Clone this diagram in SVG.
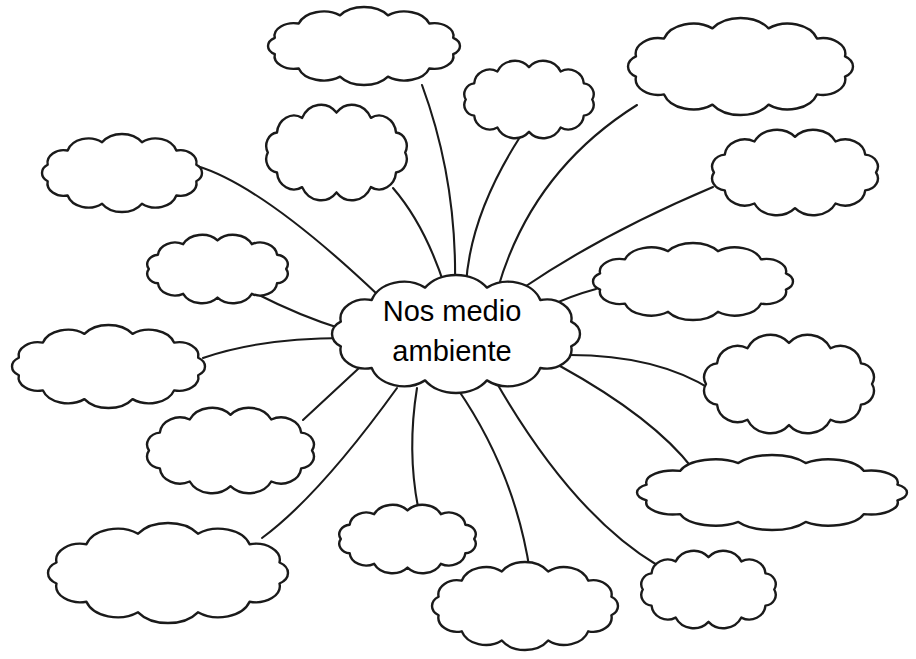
<svg xmlns="http://www.w3.org/2000/svg" width="916" height="659" viewBox="0 0 916 659">
<defs>
<style>
.cl{fill:#fff;stroke:#1a1a1a;stroke-width:2.4;stroke-linejoin:round;vector-effect:non-scaling-stroke}
.cn path{fill:none;stroke:#1a1a1a;stroke-width:2.1;stroke-linecap:round}
.t{font-family:"Liberation Sans","DejaVu Sans",sans-serif;font-size:29px;fill:#000;text-anchor:middle}
</style>
<symbol id="c1" viewBox="7.5 3.8 85 52.4" preserveAspectRatio="none" overflow="visible">
<path class="cl" d="M92,30 A7.4,7.4 0 0 1 86.4,41 A10.4,10.4 0 0 1 71,49.1 A12.7,12.7 0 0 1 50,52 A12.7,12.7 0 0 1 29,49.1 A10.4,10.4 0 0 1 13.6,41 A7.4,7.4 0 0 1 8,30 A7.4,7.4 0 0 1 13.6,19 A10.4,10.4 0 0 1 29,10.9 A12.7,12.7 0 0 1 50,8 A12.7,12.7 0 0 1 71,10.9 A10.4,10.4 0 0 1 86.4,19 A7.4,7.4 0 0 1 92,30 Z"/>
</symbol>
<symbol id="c2" viewBox="6.3 2.9 87.4 54.2" preserveAspectRatio="none" overflow="visible">
<path class="cl" d="M90.6,35.7 A8.8,8.8 0 0 1 79.7,45.6 A11.8,11.8 0 0 1 60.9,51.3 A13.1,13.1 0 0 1 39.1,51.3 A11.8,11.8 0 0 1 20.3,45.6 A8.8,8.8 0 0 1 9.4,35.7 A6.8,6.8 0 0 1 9.4,24.3 A8.8,8.8 0 0 1 20.3,14.4 A11.8,11.8 0 0 1 39.1,8.7 A13.1,13.1 0 0 1 60.9,8.7 A11.8,11.8 0 0 1 79.7,14.4 A8.8,8.8 0 0 1 90.6,24.3 A6.8,6.8 0 0 1 90.6,35.7 Z"/>
</symbol>
</defs>
<rect width="916" height="659" fill="#fff"/>
<g id="connectors" class="cn">
<path d="M422,85 Q457,180 455,285"/>
<path d="M520,137 Q470,215 466,285"/>
<path d="M637,105 Q532,171 498,288"/>
<path d="M713,187 Q604,233 523,288"/>
<path d="M596,289 Q570,296 545,308"/>
<path d="M565,355 Q655,354 712,390"/>
<path d="M560,366 Q654,418 693,469"/>
<path d="M495,380 Q572,514 657,565"/>
<path d="M457,388 Q515,472 530,572"/>
<path d="M417,388 Q407,450 418,507"/>
<path d="M397,388 Q319,496 262,538"/>
<path d="M372,356 Q333,392 303,420"/>
<path d="M203,358 Q260,338 345,338"/>
<path d="M257,294 Q300,316 342,329"/>
<path d="M197,166 C250,182 320,240 378,295"/>
<path d="M393,188 Q425,225 445,287"/>
</g>
<g id="n1"><use href="#c2" x="268" y="7" width="192" height="78"/></g>
<g id="n2"><use href="#c1" x="465" y="61" width="128" height="77"/></g>
<g id="n3"><use href="#c2" x="628" y="18" width="225" height="97"/></g>
<g id="n4"><use href="#c1" x="713" y="130" width="164" height="85"/></g>
<g id="n5"><use href="#c2" x="593" y="243" width="200" height="77"/></g>
<g id="n6"><use href="#c1" x="705" y="335" width="168" height="98"/></g>
<g id="n7"><use href="#c2" x="637" y="455" width="270" height="75"/></g>
<g id="n8"><use href="#c1" x="642" y="551" width="133" height="77"/></g>
<g id="n9"><use href="#c2" x="432" y="562" width="186" height="88"/></g>
<g id="n10"><use href="#c1" x="340" y="505" width="135" height="68"/></g>
<g id="n11"><use href="#c2" x="48" y="523" width="240" height="100"/></g>
<g id="n12"><use href="#c1" x="148" y="408" width="165" height="85"/></g>
<g id="n13"><use href="#c2" x="12" y="325" width="193" height="83"/></g>
<g id="n14"><use href="#c1" x="148" y="235" width="139" height="68"/></g>
<g id="n15"><use href="#c2" x="42" y="134" width="160" height="78"/></g>
<g id="n16"><use href="#c1" x="267" y="105" width="139" height="95"/></g>
<g id="center">
<use href="#c2" x="332" y="275" width="248" height="118"/>
<text class="t" x="452" y="321">Nos medio</text>
<text class="t" x="452" y="361">ambiente</text>
</g>
</svg>
